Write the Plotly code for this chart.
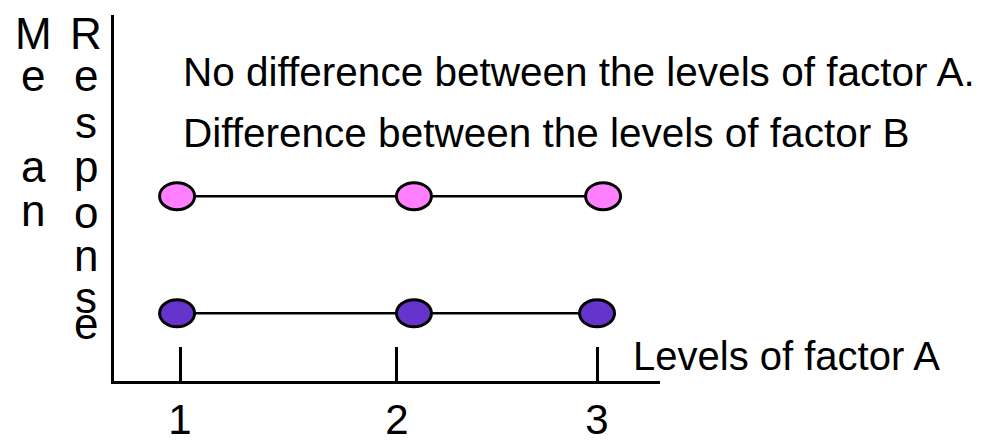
import plotly.graph_objects as go

# Levels of factor A (tick positions and labels)
tick_pos = [1.0, 2.04, 3.0]
tick_text = ["1", "2", "3"]

# Mean response for the two levels of factor B across the levels of factor A
b1_x = [0.986, 2.122, 3.029]
b1_y = [5.05, 5.05, 5.05]
b2_x = [0.986, 2.122, 3.0]
b2_y = [1.85, 1.85, 1.85]

PINK = "#FF80FF"
PURPLE = "#6633CC"
FONT = "Liberation Sans, Arial, sans-serif"

W, H = 988, 443
L, R, T, B = 114, 328, 15, 62
PW, PH = W - L - R, H - T - B


def px(x, y):
    """Pixel position in the page -> paper coordinates."""
    return (x - L) / PW, (H - B - y) / PH


fig = go.Figure()

for xs, ys in [(b1_x, b1_y), (b2_x, b2_y)]:
    fig.add_trace(go.Scatter(x=xs, y=ys, mode="lines",
                             line=dict(color="black", width=2.5),
                             hoverinfo="skip", showlegend=False))

# ellipse markers, sized in pixels and anchored at each data point
shapes = []
for xs, ys, col in [(b1_x, b1_y, PINK), (b2_x, b2_y, PURPLE)]:
    for xv, yv in zip(xs, ys):
        shapes.append(dict(type="circle", xref="x", yref="y",
                           xsizemode="pixel", ysizemode="pixel",
                           xanchor=xv, yanchor=yv,
                           x0=-17.5, x1=17.5, y0=-13.5, y1=13.5,
                           fillcolor=col, line=dict(color="black", width=3),
                           layer="above"))

annotations = []


def add_text(text, x, y, size=40, xanchor="center"):
    ax, ay = px(x, y)
    annotations.append(dict(text=text, x=ax, y=ay, xref="paper", yref="paper",
                            xanchor=xanchor, yanchor="middle", showarrow=False,
                            font=dict(family=FONT, size=size, color="black")))


add_text("No difference between the levels of factor A.", 181, 72, size=40.5, xanchor="left")
add_text("Difference between the levels of factor B", 181, 133, size=40.5, xanchor="left")
add_text("Levels of factor A", 631, 356, size=40, xanchor="left")

# stacked vertical axis title letters
for ch, y in zip(["M", "e", "a", "n"], [34, 76, 166, 210]):
    add_text(ch, 33, y, size=44)
for ch, y in zip(["R", "e", "s", "p", "o", "n", "s", "e"],
                 [34, 76, 122, 166, 212, 256, 297, 323]):
    add_text(ch, 86, y, size=44)

fig.update_layout(
    width=W, height=H,
    margin=dict(l=L, r=R, t=T, b=B, pad=0, autoexpand=False),
    paper_bgcolor="white", plot_bgcolor="white",
    shapes=shapes, annotations=annotations,
    xaxis=dict(range=[0.6835, 3.302], showgrid=False, zeroline=False,
               showline=True, linecolor="black", linewidth=2.5,
               tickmode="array", tickvals=tick_pos, ticktext=tick_text,
               ticks="inside", ticklen=34, tickwidth=2.5, tickcolor="black",
               tickfont=dict(family=FONT, size=42, color="black"),
               automargin=False, fixedrange=True),
    yaxis=dict(range=[0, 10], showgrid=False, zeroline=False,
               showline=True, linecolor="black", linewidth=2.5,
               showticklabels=False, ticks="", automargin=False,
               fixedrange=True),
)

fig.write_html("out.html", config={"displayModeBar": False})
